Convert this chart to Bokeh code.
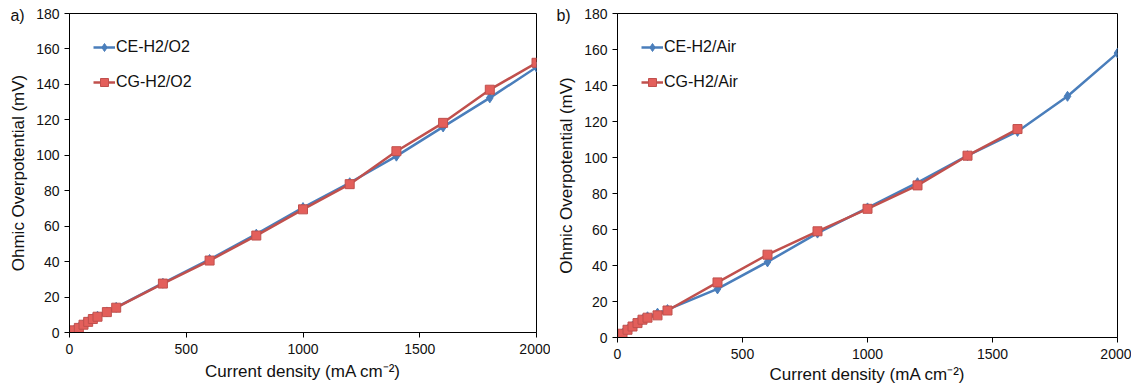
from bokeh.plotting import figure
from bokeh.layouts import row
from bokeh.models import Label, Legend, LegendItem, Range1d, FixedTicker
from bokeh.embed import file_html
from bokeh.resources import INLINE

# ---- data ----
current = [0, 10, 20, 40, 60, 80, 100, 120, 160, 200, 400, 600, 800, 1000, 1200, 1400, 1600, 1800, 2000]
ce_o2 = [0, 0.5, 1.3, 2.8, 4.5, 6.1, 7.8, 9.2, 11.6, 14.2, 27.8, 41.2, 55.5, 70.5, 84.5, 99.5, 116.0, 132.4, 149.7]
cg_o2 = [0, 0.5, 1.2, 2.6, 4.4, 6.0, 7.6, 8.9, 11.5, 14.0, 27.6, 40.6, 54.7, 69.5, 83.7, 102.3, 118.3, 137.0, 152.2]

current_air_ce = [0, 10, 20, 40, 60, 80, 100, 120, 160, 200, 400, 600, 800, 1000, 1200, 1400, 1600, 1800, 2000]
ce_air = [0, 1.0, 2.2, 4.4, 6.3, 8.2, 10.0, 11.5, 13.5, 15.5, 27.0, 42.0, 58.0, 72.0, 86.0, 101.0, 114.5, 134.0, 158.0]
current_air_cg = [0, 10, 20, 40, 60, 80, 100, 120, 160, 200, 400, 600, 800, 1000, 1200, 1400, 1600]
cg_air = [0.3, 1.0, 2.1, 4.3, 6.1, 8.0, 9.9, 11.0, 12.3, 15.0, 30.6, 46.0, 59.0, 71.5, 84.5, 101.0, 115.8]

x_ticks = [0, 500, 1000, 1500, 2000]
y_ticks = [0, 20, 40, 60, 80, 100, 120, 140, 160, 180]

BLUE = "#4a7ebb"
RED = "#c0504d"
RED_FILL = "#e35f5b"
FONT = "Liberation Sans"


def make_panel(tag, tag_dx, xa, ya, xb, yb, name_a, name_b, fw, fh, bl, br, xstand):
    p = figure(frame_width=fw, frame_height=fh, output_backend="svg", toolbar_location=None,
               x_range=Range1d(0, 2000), y_range=Range1d(0, 180),
               min_border_left=bl, min_border_right=br, min_border_top=13, min_border_bottom=10)
    p.grid.visible = False
    p.outline_line_color = "black"
    p.outline_line_width = 1
    p.background_fill_color = "white"
    p.border_fill_color = "white"
    for ax in (p.xaxis[0], p.yaxis[0]):
        ax.axis_line_color = "black"
        ax.axis_line_width = 1
        ax.major_tick_line_color = "black"
        ax.major_tick_in = 0
        ax.major_tick_out = 5
        ax.minor_tick_line_color = None
        ax.major_label_text_font = FONT
        ax.major_label_text_font_size = "14px"
        ax.major_label_text_color = "#111111"
        ax.axis_label_text_font = FONT
        ax.axis_label_text_font_size = "17px"
        ax.axis_label_text_font_style = "normal"
        ax.axis_label_text_color = "#111111"
    p.xaxis.ticker = FixedTicker(ticks=x_ticks)
    p.yaxis.ticker = FixedTicker(ticks=y_ticks)
    p.xaxis.major_label_standoff = 6
    p.yaxis.major_label_standoff = 5
    p.xaxis.axis_label = "Current density (mA cm\u207b\u00b2)"
    p.yaxis.axis_label = "Ohmic Overpotential (mV)"
    p.xaxis.axis_label_standoff = xstand
    p.yaxis.axis_label_standoff = 5

    la = p.line(xa, ya, line_color=BLUE, line_width=2.5)
    sa = p.scatter(xa, ya, marker="diamond", size=10, fill_color=BLUE, line_color=BLUE)
    lb = p.line(xb, yb, line_color=RED, line_width=2.5)
    sb = p.scatter(xb, yb, marker="square", size=9, fill_color=RED_FILL, line_color=RED)

    legend = Legend(items=[LegendItem(label=name_a, renderers=[la, sa]),
                           LegendItem(label=name_b, renderers=[lb, sb])],
                    location="top_left")
    legend.border_line_color = None
    legend.background_fill_alpha = 0
    legend.label_text_font = FONT
    legend.label_text_font_size = "16px"
    legend.label_text_color = "#111111"
    legend.glyph_width = 22
    legend.glyph_height = 20
    legend.label_height = 20
    legend.spacing = 15
    legend.margin = 24
    legend.padding = 13
    legend.label_standoff = 1
    p.add_layout(legend)

    lab = Label(x=tag_dx, y=179, x_units="screen", text=tag, text_align="center",
                text_baseline="middle", text_font=FONT, text_font_size="16px", text_color="#111111")
    p.add_layout(lab, "right")
    return p


p1 = make_panel("a)", -(536 - 17), current, ce_o2, current, cg_o2, "CE-H2/O2", "CG-H2/O2",
                467, 319, 69, 14, 5)
p2 = make_panel("b)", -(1117 - 563), current_air_ce, ce_air, current_air_cg, cg_air,
                "CE-H2/Air", "CG-H2/Air", 500, 324, 67, 10, 3)

layout = row(p1, p2)
open("out.html", "w").write(file_html(layout, INLINE))
